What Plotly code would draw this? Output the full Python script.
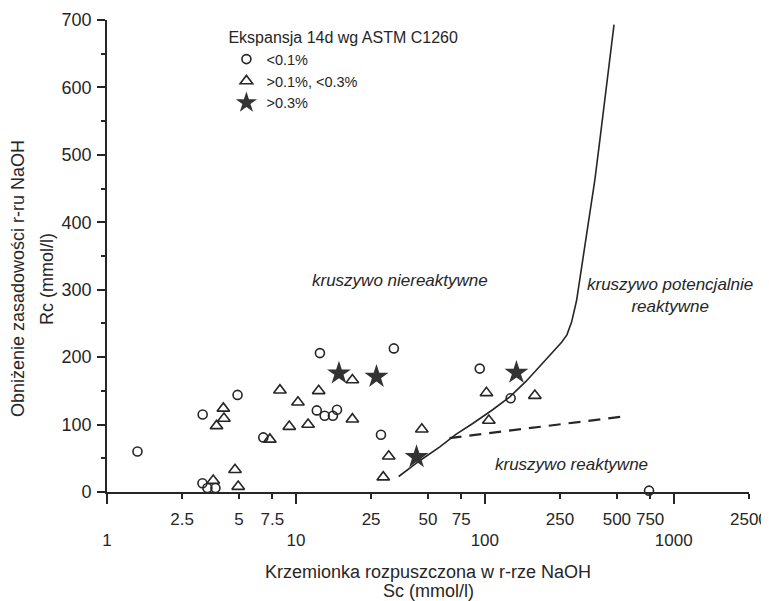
import numpy as np
import plotly.graph_objects as go

# ---- data ----
circ_x = [1.45, 3.21, 4.91, 6.72, 13.4, 12.9, 14.2, 15.7, 16.5, 33.0, 28.2, 3.2, 3.4, 3.75, 94, 137, 740]
circ_y = [60, 115, 144, 81, 206, 121, 113, 113, 122, 213, 85, 13, 6, 6, 183, 139, 2]

tri_x = [3.80, 4.13, 4.16, 3.65, 4.76, 4.95, 7.28, 8.23, 9.22, 10.25, 11.6, 13.2, 19.9, 19.9, 31.0, 29.0, 46.4, 102, 105, 184]
tri_y = [98, 124, 109, 17, 33, 8, 78, 151, 97, 133, 100, 150, 166, 108, 53, 22, 93, 147, 106, 143]

star_x = [16.9, 26.7, 43.5, 147]
star_y = [176, 171, 52, 177]

curve_x = [35, 45, 57.8, 70, 86.7, 110, 135.6, 165, 195, 230, 255, 272, 288, 306, 335, 382, 406, 483]
curve_y = [23, 46, 67, 85, 102, 122, 141, 164, 186, 208, 222, 233, 252, 284, 359, 462, 521, 693]

dash_x = [65, 540]
dash_y = [80, 112]

major_ticks = [1, 10, 100, 1000]
major_labels = ["1", "10", "100", "1000"]
minor_ticks = [2.5, 5, 7.5, 25, 50, 75, 250, 500, 750, 2500]
minor_labels = ["2.5", "5", "7.5", "25", "50", "75", "250", "500", "750", "2500"]

legend_title = "Ekspansja 14d wg ASTM C1260"
series_names = ["<0.1%", ">0.1%, <0.3%", ">0.3%"]

region_labels = ["<i>kruszywo niereaktywne</i>",
                 "<i>kruszywo potencjalnie<br>reaktywne</i>",
                 "<i>kruszywo reaktywne</i>"]
region_x = [35.5, 960, 289]
region_y = [314, 292, 41]

x_title_1 = "Krzemionka rozpuszczona w r-rze NaOH"
x_title_2 = "Sc (mmol/l)"
y_title_1 = "Obniżenie zasadowości r-ru NaOH"
y_title_2 = "Rc (mmol/l)"

INK = "#262626"
FONT = "Liberation Sans, Arial, sans-serif"

fig = go.Figure()

fig.add_trace(go.Scatter(x=curve_x, y=curve_y, mode="lines",
                         line=dict(color=INK, width=1.6),
                         showlegend=False, hoverinfo="skip"))
fig.add_trace(go.Scatter(x=dash_x, y=dash_y, mode="lines",
                         line=dict(color=INK, width=2.2, dash="12px,8px"),
                         showlegend=False, hoverinfo="skip"))

fig.add_trace(go.Scatter(x=circ_x, y=circ_y, mode="markers", name=series_names[0],
                         marker=dict(symbol="circle-open", size=9, color=INK,
                                     line=dict(width=1.6, color=INK)),
                         cliponaxis=False))
fig.add_trace(go.Scatter(x=tri_x, y=tri_y, mode="markers", name=series_names[1],
                         marker=dict(symbol="triangle-up-open", size=11, color=INK,
                                     line=dict(width=1.6, color=INK)),
                         cliponaxis=False))
fig.add_trace(go.Scatter(x=star_x, y=star_y, mode="markers", name=series_names[2],
                         marker=dict(symbol="star", size=18, color="#333333",
                                     line=dict(width=0)),
                         cliponaxis=False))

# overlay axis trace to activate xaxis2 (major decade ticks)
fig.add_trace(go.Scatter(x=[major_ticks[0]], y=[None], xaxis="x2", yaxis="y",
                         mode="markers", showlegend=False, hoverinfo="skip"))

xr = [0, np.log10(minor_ticks[-1]) + 0.0005]

fig.update_layout(
    template="none",
    width=761, height=593,
    margin=dict(l=99, r=20, t=12, b=109, autoexpand=False),
    paper_bgcolor="white", plot_bgcolor="white",
    font=dict(family=FONT, size=18, color=INK),
    showlegend=True,
    legend=dict(title=dict(text=legend_title, font=dict(size=16)),
                font=dict(size=14.5), x=0.186, y=0.995, xanchor="left", yanchor="top",
                bgcolor="rgba(0,0,0,0)", tracegroupgap=0, itemsizing="trace"),
    xaxis=dict(type="log", range=xr, showgrid=False, zeroline=False, automargin=False,
               showline=True, linecolor=INK, linewidth=1.6,
               tickmode="array", tickvals=minor_ticks, ticktext=minor_labels,
               ticks="outside", ticklen=5, tickwidth=1.6, tickcolor=INK,
               ticklabelstandoff=6, tickfont=dict(size=17)),
    xaxis2=dict(type="log", range=xr, overlaying="x", anchor="y", side="bottom",
                showgrid=False, zeroline=False, showline=False, automargin=False,
                tickmode="array", tickvals=major_ticks, ticktext=major_labels,
                ticks="outside", ticklen=11, tickwidth=1.6, tickcolor=INK,
                ticklabelstandoff=22, tickfont=dict(size=17)),
    yaxis=dict(range=[0, 700], showgrid=False, zeroline=False, automargin=False,
               showline=True, linecolor=INK, linewidth=1.6,
               tickmode="array", tickvals=list(range(0, 701, 100)),
               ticks="outside", ticklen=8, tickwidth=1.6, tickcolor=INK,
               ticklabelstandoff=2,
               minor=dict(dtick=50, ticks="outside", ticklen=4, tickwidth=1.6, tickcolor=INK),
               tickfont=dict(size=18)),
)

for txt, rx, ry in zip(region_labels, region_x, region_y):
    fig.add_annotation(x=np.log10(rx), y=ry, xref="x", yref="y", text=txt,
                       showarrow=False, font=dict(size=17, color=INK))

fig.add_annotation(x=0.5, y=0, xref="paper", yref="paper", yshift=-80,
                   text=x_title_1, showarrow=False, font=dict(size=18, color=INK),
                   yanchor="middle")
fig.add_annotation(x=0.5, y=0, xref="paper", yref="paper", yshift=-99,
                   text=x_title_2, showarrow=False, font=dict(size=18, color=INK),
                   yanchor="middle")
fig.add_annotation(x=0, y=0.5, xref="paper", yref="paper", xshift=-89, yshift=-23,
                   text=y_title_1, textangle=-90, showarrow=False, xanchor="center",
                   font=dict(size=18, color=INK))
fig.add_annotation(x=0, y=0.5, xref="paper", yref="paper", xshift=-60, yshift=-23,
                   text=y_title_2, textangle=-90, showarrow=False, xanchor="center",
                   font=dict(size=18, color=INK))

fig.write_html("out.html")
